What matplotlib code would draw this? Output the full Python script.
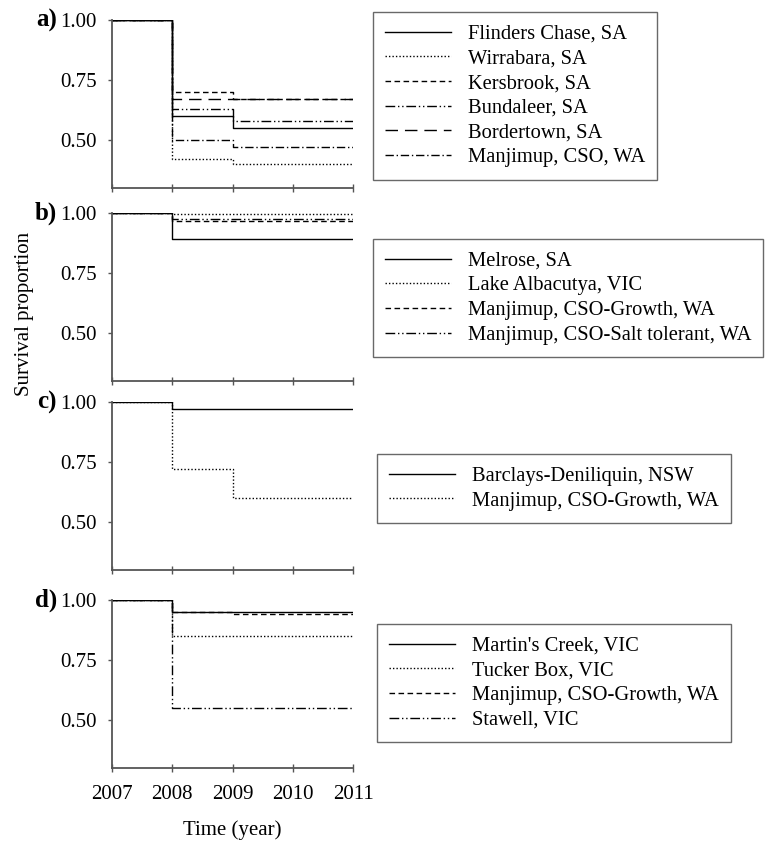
import matplotlib.pyplot as plt
from matplotlib.lines import Line2D

plt.rcParams['font.family'] = ['Liberation Serif', 'DejaVu Serif']
plt.rcParams['font.size'] = 15

years = [2007, 2008, 2009, 2010, 2011]

# panel a
a_names = ["Flinders Chase, SA", "Wirrabara, SA", "Kersbrook, SA",
           "Bundaleer, SA", "Bordertown, SA", "Manjimup, CSO, WA"]
a_values = [
    [1.00, 0.60, 0.55, 0.55, 0.55],
    [1.00, 0.42, 0.40, 0.40, 0.40],
    [1.00, 0.70, 0.67, 0.67, 0.67],
    [1.00, 0.63, 0.58, 0.58, 0.58],
    [1.00, 0.67, 0.67, 0.67, 0.67],
    [1.00, 0.50, 0.47, 0.47, 0.47],
]

# panel b
b_names = ["Melrose, SA", "Lake Albacutya, VIC", "Manjimup, CSO-Growth, WA",
           "Manjimup, CSO-Salt tolerant, WA"]
b_values = [
    [1.00, 0.89, 0.89, 0.89, 0.89],
    [1.00, 0.995, 0.995, 0.995, 0.995],
    [1.00, 0.965, 0.965, 0.965, 0.965],
    [1.00, 0.975, 0.975, 0.975, 0.975],
]

# panel c
c_names = ["Barclays-Deniliquin, NSW", "Manjimup, CSO-Growth, WA"]
c_values = [
    [1.00, 0.97, 0.97, 0.97, 0.97],
    [1.00, 0.72, 0.60, 0.60, 0.60],
]

# panel d
d_names = ["Martin's Creek, VIC", "Tucker Box, VIC", "Manjimup, CSO-Growth, WA",
           "Stawell, VIC"]
d_values = [
    [1.00, 0.95, 0.95, 0.95, 0.95],
    [1.00, 0.85, 0.85, 0.85, 0.85],
    [1.00, 0.95, 0.94, 0.94, 0.94],
    [1.00, 0.55, 0.55, 0.55, 0.55],
]

SOLID = '-'
DOT = (0, (1, 1.5))
DASH = (0, (4, 2.5))
DASHDOTDOT = (0, (7, 2, 1, 2, 1, 2))
LONGDASH = (0, (9, 5))
DASHDOT = (0, (6, 2, 1, 2))

a_styles = [SOLID, DOT, DASH, DASHDOTDOT, LONGDASH, DASHDOT]
b_styles = [SOLID, DOT, DASH, DASHDOTDOT]
c_styles = [SOLID, DOT]
d_styles = [SOLID, DOT, DASH, DASHDOTDOT]

W, H = 766, 841
fig = plt.figure(figsize=(W / 100, H / 100), dpi=100)

# (top, bottom) of each plotting area in pixels, then legend anchor
panels = [
    ('a)', a_names, a_values, a_styles, (20, 188), (373, 12, 'upper left')),
    ('b)', b_names, b_values, b_styles, (213, 381), (373, 239, 'upper left')),
    ('c)', c_names, c_values, c_styles, (402, 570), (377, 523, 'lower left')),
    ('d)', d_names, d_values, d_styles, (600, 768), (377, 624, 'upper left')),
]

left, right = 112, 353
for label, names, values, styles, (top, bot), (lx, ly, lloc) in panels:
    ax = fig.add_axes([left / W, 1 - bot / H, (right - left) / W, (bot - top) / H])
    for name, vals, ls in zip(names, values, styles):
        ax.plot(years, vals, drawstyle='steps-post', color='black',
                linestyle=ls, linewidth=1.0, label=name)
    ax.set_xlim(2007, 2011)
    ax.set_ylim(0.30, 1.00)
    ax.set_yticks([0.50, 0.75, 1.00])
    ax.set_yticklabels(['0.50', '0.75', '1.00'])
    ax.set_xticks(years)
    for side in ('top', 'right'):
        ax.spines[side].set_visible(False)
    for side in ('left', 'bottom'):
        ax.spines[side].set_color('#555555')
        ax.spines[side].set_linewidth(1.3)
    ax.tick_params(axis='y', direction='out', length=3, width=1, color='#555555', pad=8)
    ax.tick_params(axis='x', direction='inout', length=6, width=1, color='#555555', pad=9)
    ax.text(-0.228, 1.0, label, transform=ax.get_yaxis_transform(),
            ha='right', va='center', fontweight='bold', fontsize=18)
    if label != 'd)':
        ax.tick_params(axis='x', labelbottom=False)

    handles = [Line2D([], [], color='black', linestyle=ls, linewidth=1.0) for ls in styles]
    leg = ax.legend(handles, names, loc=lloc, bbox_to_anchor=(lx / W, 1 - ly / H),
                    bbox_transform=fig.transFigure, borderaxespad=0,
                    frameon=True, fancybox=False, handlelength=3.2,
                    handletextpad=0.8, labelspacing=0.26, borderpad=0.6,
                    fontsize=14.8)
    leg.get_frame().set_edgecolor('#444444')
    leg.get_frame().set_linewidth(1.0)

fig.text(25 / W, 1 - 314 / H, 'Survival proportion', rotation=90,
         ha='center', va='center', fontsize=15)
fig.text((left + right) / 2 / W, 1 - 830 / H, 'Time (year)',
         ha='center', va='center', fontsize=15)

fig.savefig('out.png', dpi=100)
